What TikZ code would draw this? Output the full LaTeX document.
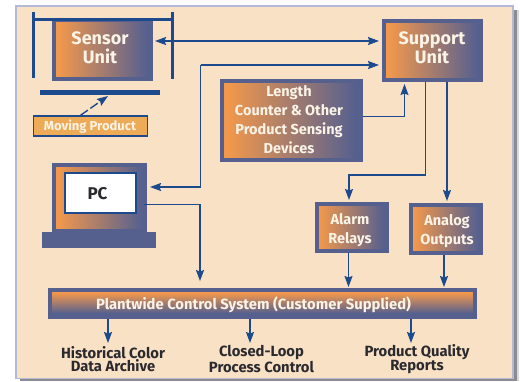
\documentclass[tikz,border=0pt]{standalone}
\usepackage{fontspec}
\setmainfont{Fira Sans}
\usetikzlibrary{arrows.meta}
\definecolor{paneltan}{HTML}{F9E1C6}
\definecolor{panelrim}{HTML}{B4B9DA}
\definecolor{boxorange}{HTML}{F2984C}
\definecolor{boxblue}{HTML}{56608F}
\definecolor{linkblue}{HTML}{1C4A8C}
\definecolor{labelwhite}{HTML}{FBF3E6}
\definecolor{labeldark}{HTML}{2A2A2E}
\definecolor{movingfill}{HTML}{EDAB58}
\pgfdeclarehorizontalshading{boxfade}{100bp}{color(0bp)=(boxorange); color(27bp)=(boxorange); color(73bp)=(boxblue); color(100bp)=(boxblue)}
\pgfdeclareverticalshading{barfade}{100bp}{color(0bp)=(boxblue); color(32bp)=(boxblue); color(70bp)=(boxorange); color(100bp)=(boxorange)}
\tikzset{
	unitbox/.style={draw=boxblue,line width=4pt,shading=boxfade,inner sep=0pt},
	boxtext/.style={text=labelwhite,align=center,inner sep=0pt},
	bigtext/.style={font=\fontsize{18}{19}\selectfont\bfseries},
	smalltext/.style={font=\fontsize{14.5}{19}\selectfont\bfseries},
	link/.style={draw=linkblue,line width=1.4pt,-{Stealth[length=11pt,width=8pt,inset=1.5pt]}},
	bracket/.style={draw=linkblue,line width=3pt},
	outlabel/.style={text=labeldark,align=center,font=\fontsize{14.8}{12}\selectfont\bfseries,inner sep=0pt}
}
\begin{document}
\begin{tikzpicture}[x=1pt,y=-1pt]
	\useasboundingbox (0,0) rectangle (520,381);
	% panel and its shadow
	\fill[black!15] (20,10) rectangle (519,381);
	\fill[black!45] (20,10) rectangle (517,381);
	\filldraw[draw=panelrim,fill=paneltan,line width=1.4pt] (16,6) rectangle (513,378.5);
	% sensor
	\node[unitbox,minimum width=97pt,minimum height=59pt] (sensor) at (102.5,49.5) {};
	\node[boxtext,bigtext] (sensortext) at (100,48) {Sensor\\Unit};
	\draw[bracket] (33,12) -- (33,78);
	\draw[bracket] (172,12) -- (172,79);
	\draw[bracket] (33,19) -- (172,19);
	\fill[linkblue] (40,90) rectangle (160,95);
	\node[draw=linkblue,fill=movingfill,line width=1.4pt,minimum width=114pt,minimum height=20pt,inner sep=0pt] (moving) at (90.5,126) {};
	\node[boxtext,font=\fontsize{13}{13}\selectfont\bfseries] (movingtext) at (90,127) {Moving Product};
	\coordinate (belt) at (108,96);
	\draw[link,dash pattern=on 9pt off 3pt] ([xshift=-10pt]moving.north) -- (belt);
	% support
	\node[unitbox,minimum width=97pt,minimum height=59pt] (support) at (432.5,50.5) {};
	\node[boxtext,bigtext] (supporttext) at (432,48) {Support\\Unit};
	\draw[link,{Stealth[length=11pt,width=8pt,inset=1.5pt]}-{Stealth[length=11pt,width=8pt,inset=1.5pt]}] ([xshift=2pt,yshift=8.5pt]sensor.east) -- ([xshift=-3pt,yshift=9.5pt]support.west);
	% sensing devices
	\node[unitbox,minimum width=138.5pt,minimum height=79pt] (length) at (291.25,120.5) {};
	\node[boxtext,smalltext] (lengthtext) at (289,119.5) {Length\\Counter \& Other\\Product Sensing\\Devices};
	\draw[link] ([yshift=4pt]length.east) -| ([xshift=-28pt,yshift=-2pt]support.south);
	% pc
	\node[unitbox,minimum width=91pt,minimum height=66pt] (pcframe) at (99.5,198) {};
	\node[draw=linkblue,fill=white,line width=1.2pt,minimum width=71pt,minimum height=40pt,inner sep=0pt] (pc) at (100.5,193) {};
	\node[text=labeldark,inner sep=0pt,font=\fontsize{17}{17}\selectfont\bfseries] (pctext) at (97.5,194) {PC};
	\fill[boxblue] (41.5,232) rectangle (156,248);
	\coordinate (pcbend) at (200.5,65);
	\coordinate (pcdrop) at (200,281);
	\draw[link] (pcbend) -- ([xshift=-3pt]pcbend -| support.west);
	\draw[link] (pcbend) |- ([xshift=3pt,yshift=11pt]pcframe.east);
	\draw[link] ([xshift=-3pt,yshift=-6.5pt]pcframe.east) -| (pcdrop);
	% alarm and analog
	\node[unitbox,minimum width=70pt,minimum height=47pt] (alarm) at (351.5,227.5) {};
	\node[boxtext,smalltext] (alarmtext) at (350,230) {Alarm\\Relays};
	\node[unitbox,minimum width=70pt,minimum height=48pt] (analog) at (446,229) {};
	\node[boxtext,smalltext] (analogtext) at (447,231) {Analog\\Outputs};
	\draw[link] ([xshift=-7pt]support.south) |- ([xshift=-2.5pt,yshift=27pt]alarm.north) -- ([xshift=-2.5pt,yshift=2pt]alarm.north);
	\draw[link] ([xshift=14.5pt]support.south) -- ([xshift=1pt,yshift=2pt]analog.north);
	% plantwide
	\node[draw=boxblue,line width=4pt,shading=barfade,minimum width=425pt,minimum height=27pt,inner sep=0pt] (plant) at (262.5,303.5) {};
	\node[boxtext,font=\fontsize{14.8}{14.8}\selectfont\bfseries] (planttext) at (253.5,305) {Plantwide Control System (Customer Supplied)};
	\draw[link] ([xshift=-3pt]alarm.south) -- ([xshift=86pt,yshift=1pt]plant.north);
	\draw[link] ([xshift=-2pt]analog.south) -- ([xshift=181.5pt,yshift=1pt]plant.north);
	% outputs
	\node[outlabel] (archive) at (113,359) {Historical Color\\Data Archive};
	\node[outlabel] (closed) at (261.5,359) {Closed-Loop\\Process Control};
	\node[outlabel] (reports) at (417,359) {Product Quality\\Reports};
	\foreach \s in {-154.5,-12.5,148.5}
	\draw[link] ([xshift=\s pt]plant.south) -- ++(0,24);
\end{tikzpicture}
\end{document}
